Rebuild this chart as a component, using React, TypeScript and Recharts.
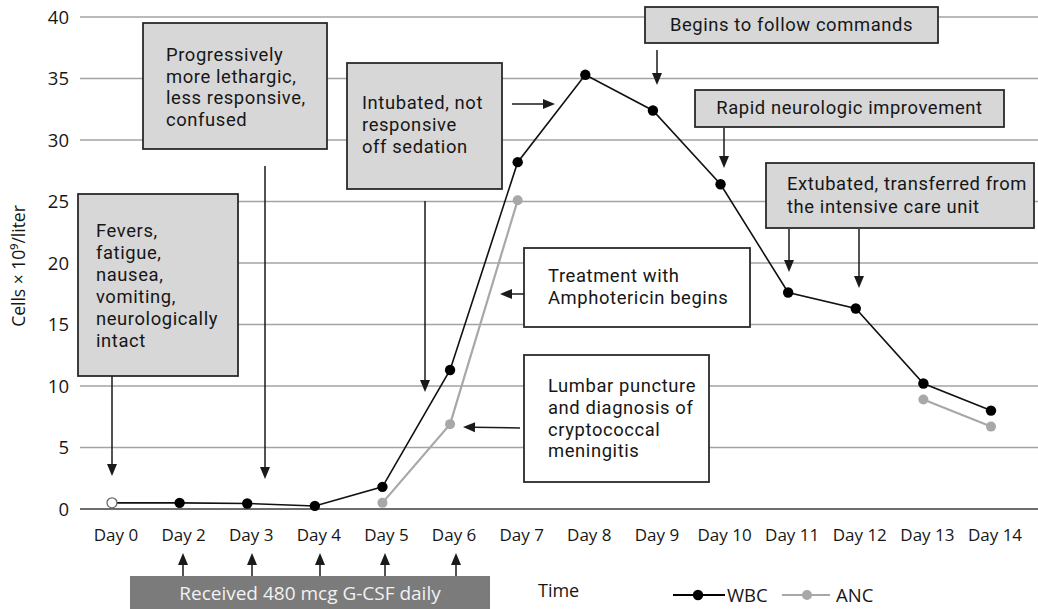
import React from 'react';
import { LineChart, Line, XAxis, YAxis, CartesianGrid } from 'recharts';

const days = ['Day 0', 'Day 2', 'Day 3', 'Day 4', 'Day 5', 'Day 6', 'Day 7', 'Day 8', 'Day 9', 'Day 10', 'Day 11', 'Day 12', 'Day 13', 'Day 14'];
const wbcValues = [0.5, 0.5, 0.45, 0.25, 1.8, 11.3, 28.2, 35.3, 32.4, 26.4, 17.6, 16.3, 10.2, 8.0];
const ancValues: (number | null)[] = [null, null, null, null, 0.5, 6.9, 25.1, null, null, null, null, null, 8.9, 6.7];
const yTicks = [0, 5, 10, 15, 20, 25, 30, 35, 40];

const data = days.map((day, i) => ({ day, wbc: wbcValues[i], anc: ancValues[i] }));

const FONT = '"Open Sans", "Noto Sans", sans-serif';
const BOX_FONT = 'Roboto, "Open Sans", sans-serif';
const TEXT = '#161616';

function Arrow({ x1, y1, x2, y2 }: { x1: number; y1: number; x2: number; y2: number }) {
  const len = 12;
  const hw = 5;
  const dx = x2 - x1;
  const dy = y2 - y1;
  const d = Math.sqrt(dx * dx + dy * dy);
  const ux = dx / d;
  const uy = dy / d;
  const bx = x2 - ux * len;
  const by = y2 - uy * len;
  const px = -uy * hw;
  const py = ux * hw;
  return (
    <g>
      <line x1={x1} y1={y1} x2={bx + ux * 2} y2={by + uy * 2} stroke="#1a1a1a" strokeWidth={1.5} />
      <polygon points={`${x2},${y2} ${bx + px},${by + py} ${bx - px},${by - py}`} fill="#1a1a1a" />
    </g>
  );
}

function Box({ x, y, w, h, fill }: { x: number; y: number; w: number; h: number; fill: string }) {
  return <rect x={x} y={y} width={w} height={h} fill={fill} stroke="#2a2a2a" strokeWidth={1.8} />;
}

function Lines({ x, y, step = 21.8, lines, size = 18.4, anchor = 'start' }: { x: number; y: number; step?: number; lines: string[]; size?: number; anchor?: string }) {
  return (
    <text x={x} y={y} fontSize={size} fill={TEXT} fontFamily={BOX_FONT} letterSpacing={0.6} textAnchor={anchor as any}>
      {lines.map((t, i) => (
        <tspan key={i} x={x} dy={i === 0 ? 0 : step}>
          {t}
        </tspan>
      ))}
    </text>
  );
}

const GRAY_BOX = '#d7d7d7';

function WbcDot(props: any) {
  const { cx, cy, index } = props;
  if (cx == null || cy == null) return <g key={`w${index}`} />;
  if (index === 0) {
    return <circle key={`w${index}`} cx={cx} cy={cy} r={5} fill="#fff" stroke="#666" strokeWidth={1.3} />;
  }
  return <circle key={`w${index}`} cx={cx} cy={cy} r={5.2} fill="#000" stroke="none" />;
}

function AncDot(props: any) {
  const { cx, cy, index } = props;
  if (cx == null || cy == null) return <g key={`a${index}`} />;
  return <circle key={`a${index}`} cx={cx} cy={cy} r={5} fill="#a8a8a8" stroke="none" />;
}

function XTick(props: any) {
  const { x, y, payload } = props;
  return (
    <text x={x + 4} y={y + 24} textAnchor="middle" fontSize={17} fill={TEXT} fontFamily={FONT}>
      {payload.value}
    </text>
  );
}

function YLabel(props: any) {
  const vb = props.viewBox || {};
  const cx = 18;
  const cy = (vb.y ?? 17) + (vb.height ?? 492) / 2 + 3;
  return (
    <text x={cx} y={cy} transform={`rotate(-90, ${cx}, ${cy})`} textAnchor="middle" dominantBaseline="central" fontSize={17.5} fill={TEXT} fontFamily={FONT}>
      Cells × 10⁹/liter
    </text>
  );
}

function Overlay() {
  return (
    <svg width={1038} height={609} style={{ position: 'absolute', left: 0, top: 0, pointerEvents: 'none' }}>
      {/* Progressively more lethargic */}
      <Box x={143} y={23} w={184} h={126} fill={GRAY_BOX} />
      <Lines x={166} y={61} step={21.7} lines={['Progressively', 'more lethargic,', 'less responsive,', 'confused']} />
      <Arrow x1={265} y1={166} x2={265} y2={479} />

      {/* Fevers */}
      <Box x={78} y={194} w={160} h={182} fill={GRAY_BOX} />
      <Lines x={96} y={237} step={22} lines={['Fevers,', 'fatigue,', 'nausea,', 'vomiting,', 'neurologically', 'intact']} />
      <Arrow x1={112} y1={376} x2={112} y2={476} />

      {/* Intubated */}
      <Box x={347} y={63} w={155} h={126} fill={GRAY_BOX} />
      <Lines x={362} y={109} step={22} lines={['Intubated, not', 'responsive', 'off sedation']} />
      <Arrow x1={512} y1={104} x2={555} y2={104} />
      <Arrow x1={425} y1={201} x2={425} y2={392} />

      {/* Begins to follow commands */}
      <Box x={645} y={7} w={293} h={36} fill={GRAY_BOX} />
      <Lines x={791.5} y={31} lines={['Begins to follow commands']} anchor="middle" />
      <Arrow x1={657} y1={50} x2={657} y2={85} />

      {/* Rapid neurologic improvement */}
      <Box x={695} y={90} w={309} h={37} fill={GRAY_BOX} />
      <Lines x={849.5} y={114} lines={['Rapid neurologic improvement']} anchor="middle" />
      <Arrow x1={724} y1={128} x2={724} y2={168} />

      {/* Extubated */}
      <Box x={766} y={163} w={268} h={65} fill={GRAY_BOX} />
      <Lines x={787} y={190} step={23} lines={['Extubated, transferred from', 'the intensive care unit']} />
      <Arrow x1={789} y1={229} x2={789} y2={272} />
      <Arrow x1={859} y1={229} x2={859} y2={288} />

      {/* Treatment with Amphotericin */}
      <Box x={524} y={248} w={226} h={79} fill="#fff" />
      <Lines x={548} y={282} step={21.7} lines={['Treatment with', 'Amphotericin begins']} />
      <Arrow x1={524} y1={294} x2={500} y2={294} />

      {/* Lumbar puncture */}
      <Box x={524} y={355} w={185} h={127} fill="#fff" />
      <Lines x={548} y={392} step={21.8} lines={['Lumbar puncture', 'and diagnosis of', 'cryptococcal', 'meningitis']} />
      <Arrow x1={520} y1={428} x2={463} y2={427} />

      {/* G-CSF bar */}
      <rect x={130} y={576} width={360} height={40} fill="#7b7b7b" />
      <text x={310} y={600} textAnchor="middle" fontSize={19} fill="#f2f2f2" fontFamily={FONT}>
        Received 480 mcg G-CSF daily
      </text>
      {[183, 252, 320, 385, 456].map((x) => (
        <Arrow key={x} x1={x} y1={576} x2={x} y2={553} />
      ))}

      {/* Axis title and legend */}
      <text x={538} y={597} fontSize={18} fill={TEXT} fontFamily={FONT}>
        Time
      </text>
      <line x1={673} y1={595} x2={725} y2={595} stroke="#000" strokeWidth={2} />
      <circle cx={698} cy={595} r={5.2} fill="#000" />
      <text x={727} y={602} fontSize={18.5} fill={TEXT} fontFamily={FONT}>
        WBC
      </text>
      <line x1={782} y1={595} x2={830} y2={595} stroke="#a8a8a8" strokeWidth={2.2} />
      <circle cx={807} cy={595} r={5} fill="#a8a8a8" />
      <text x={836} y={602} fontSize={18.5} fill={TEXT} fontFamily={FONT}>
        ANC
      </text>
    </svg>
  );
}

export default function App() {
  return (
    <div style={{ position: 'absolute', left: 0, top: 0, width: 1038, height: 609, background: '#fff', fontFamily: FONT }}>
      <LineChart width={1038} height={609} data={data} margin={{ top: 17, right: 0, bottom: 70, left: 0 }}>
        <CartesianGrid vertical={false} stroke="#a3a3a3" strokeWidth={1.4} />
        <XAxis
          dataKey="day"
          padding={{ left: 32, right: 47 }}
          axisLine={{ stroke: '#555', strokeWidth: 1.6 }}
          tickLine={false}
          tick={<XTick />}
          interval={0}
          height={30}
        />
        <YAxis
          domain={[0, 40]}
          ticks={yTicks}
          width={80}
          axisLine={false}
          tickLine={false}
          tickMargin={5}
          tick={{ fontSize: 18.5, fill: TEXT, fontFamily: FONT }}
          label={{ content: <YLabel /> }}
        />
        <Line dataKey="anc" stroke="#a8a8a8" strokeWidth={2.2} dot={<AncDot />} isAnimationActive={false} connectNulls={false} />
        <Line dataKey="wbc" stroke="#111" strokeWidth={1.6} dot={<WbcDot />} isAnimationActive={false} />
      </LineChart>
      <Overlay />
    </div>
  );
}
